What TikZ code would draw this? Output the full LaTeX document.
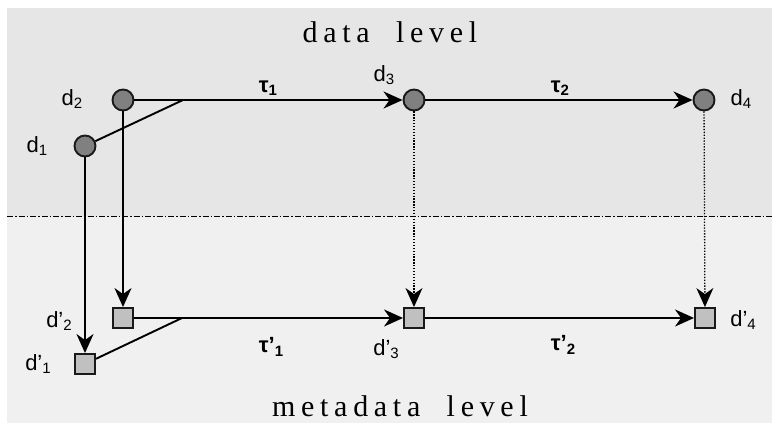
\documentclass[tikz,border=0pt]{standalone}
\usepackage{fontspec}
\setmainfont{Liberation Sans}
\newfontfamily\levelfont[LetterSpace=19]{Liberation Serif}
\usetikzlibrary{arrows.meta,positioning}
\definecolor{upperbg}{HTML}{E6E6E6}
\definecolor{lowerbg}{HTML}{F0F0F0}
\definecolor{datafill}{HTML}{808080}
\definecolor{metafill}{HTML}{C0C0C0}
\newcommand{\lowidx}[1]{\raisebox{-0.3ex}{\fontsize{15}{15}\selectfont #1}}
\tikzset{
    datanode/.style={circle,draw=black!90,line width=1.9pt,fill=datafill,minimum size=21pt,inner sep=0pt},
    metanode/.style={rectangle,draw=black!90,line width=1.9pt,fill=metafill,minimum size=20pt,inner sep=0pt},
    lbl/.style={font=\fontsize{22}{22}\selectfont,inner sep=0pt},
    taulbl/.style={font=\fontsize{22}{22}\selectfont\bfseries,inner sep=0pt},
    lvl/.style={font=\fontsize{30}{30}\selectfont\levelfont,inner sep=0pt,anchor=base},
    arr/.style={line width=1.9pt,-{Stealth[length=19pt,width=17pt,inset=6pt]}},
    plain/.style={line width=1.9pt}
}
\begin{document}
\begin{tikzpicture}[x=1pt,y=-1pt]
    % Frame and the two levels
    \useasboundingbox (0,0) rectangle (772,423);
    \fill[upperbg] (7,8) rectangle (772,216);
    \fill[lowerbg] (7,216) rectangle (772,423);
    \draw[line width=1pt,dash pattern=on 6pt off 2pt on 1.5pt off 2pt] (7,216) -- (772,216);
    \node[lvl] (datalvl) at (390,42) {data\ \ level};
    \node[lvl] (metalvl) at (400,416) {metadata\ \ level};
    % Data items (upper level)
    \node[datanode] (d1) at (85,146) {};
    \node[datanode] (d2) at (123,100) {};
    \node[datanode] (d3) at (414,100) {};
    \node[datanode] (d4) at (704,100) {};
    % Metadata items (lower level)
    \node[metanode] (m1) at (85,364) {};
    \node[metanode] (m2) at (123,318) {};
    \node[metanode] (m3) at (414,318) {};
    \node[metanode] (m4) at (705,318) {};
    % Joining points
    \coordinate (jd) at (183,100);
    \coordinate (jm) at (182,318);
    % Labels
    \node[lbl] (ld1) at (37,146) {d\lowidx{1}};
    \node[lbl] (ld2) at (72,99) {d\lowidx{2}};
    \node[lbl] (ld3) at (384,75) {d\lowidx{3}};
    \node[lbl] (ld4) at (741,99) {d\lowidx{4}};
    \node[lbl] (lm1) at (38,364) {d’\lowidx{1}};
    \node[lbl] (lm2) at (59,321) {d’\lowidx{2}};
    \node[lbl] (lm3) at (386,349) {d’\lowidx{3}};
    \node[lbl] (lm4) at (743,320) {d’\lowidx{4}};
    \node[taulbl] (t1) at (268,88) {τ\lowidx{\bfseries 1}};
    \node[taulbl] (t2) at (560,88) {τ\lowidx{\bfseries 2}};
    \node[taulbl] (tm1) at (271,347) {τ’\lowidx{\bfseries 1}};
    \node[taulbl] (tm2) at (563,345) {τ’\lowidx{\bfseries 2}};
    % Transformations
    \draw[plain] (d1) -- (jd);
    \draw[arr] (d2) -- (d3);
    \draw[arr] (d3) -- (d4);
    \draw[plain] (m1) -- (jm);
    \draw[arr] (m2) -- (m3);
    \draw[arr] (m3) -- (m4);
    % Data to metadata
    \draw[arr] (d1) -- (m1);
    \draw[arr] (d2) -- (m2);
    \draw[arr,line width=1.3pt,dash pattern=on 1.3pt off 1.6pt] (d3) -- (m3);
    \draw[arr,line width=1.3pt,dash pattern=on 1.3pt off 1.6pt] (d4) -- (m4);
\end{tikzpicture}
\end{document}
